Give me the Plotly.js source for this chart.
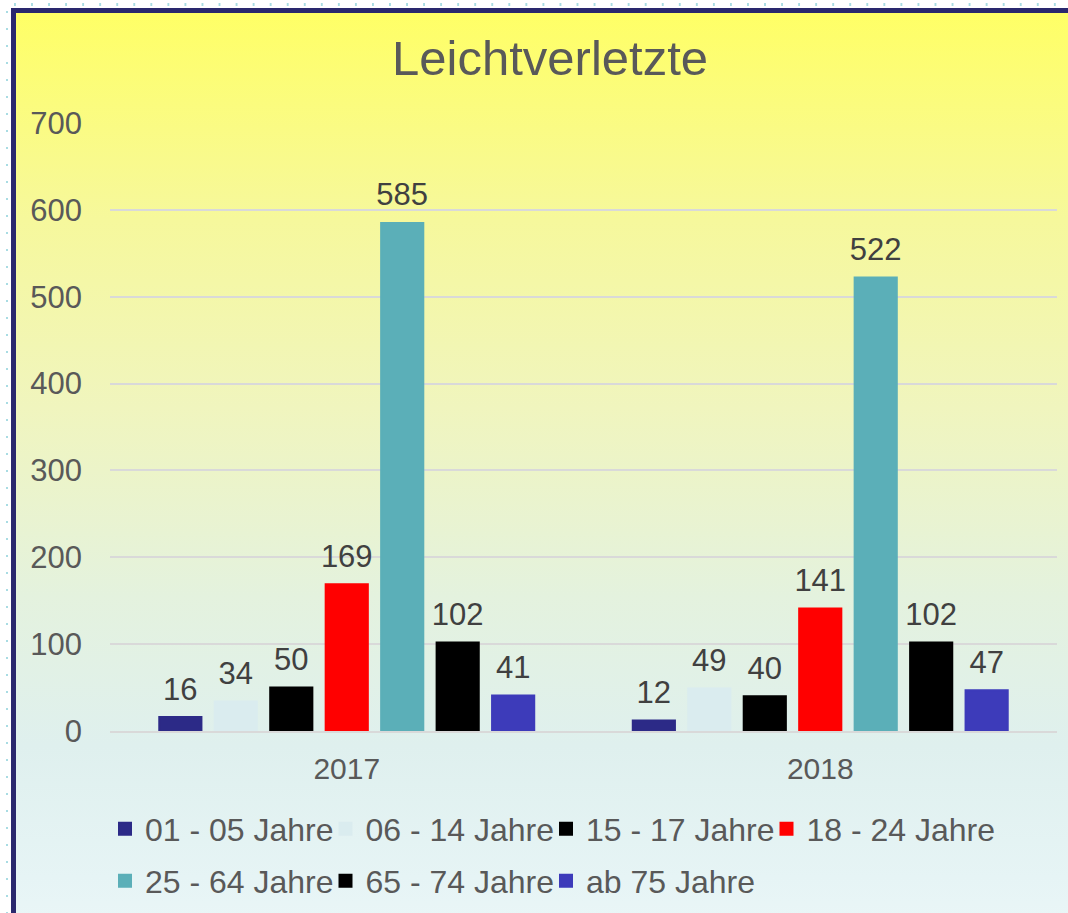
<!DOCTYPE html>
<html>
<head>
<meta charset="utf-8">
<script src="https://cdn.plot.ly/plotly-3.0.1.min.js"></script>
<style>
  html, body { margin: 0; padding: 0; background: #ffffff; overflow: hidden; width: 1068px; height: 913px; }
  #dotsTop { position: absolute; left: 14px; top: 3px; width: 1060px; height: 3px;
    background-image: linear-gradient(to right, #A9DCE3 2px, transparent 2px); background-size: 17.05px 3px; }
  #dotsLeft { position: absolute; left: 6px; top: 11px; width: 2px; height: 910px;
    background-image: linear-gradient(to bottom, #A9DCE3 2px, transparent 2px); background-size: 2px 17px; }
  #frame { position: absolute; left: 11px; top: 8px; width: 1100px; height: 940px;
    border-left: 5px solid #2A286E; border-top: 5px solid #2A286E;
    background: linear-gradient(to bottom, #FFFF66 0%, #F6F89C 22%, #F0F5BE 42%, #E4F2DE 62%, #DFF0EE 78%, #E6F4F5 92%, #ECF7F8 100%); }
  #chart { width: 1100px; height: 940px; }
</style>
</head>
<body>
<div id="dotsTop"></div>
<div id="dotsLeft"></div>
<div id="frame"><div id="chart"></div></div>
<script>
// ---- data ----
const titleText = 'Leichtverletzte';
const years = ['2017', '2018'];
const seriesNames = ['01 - 05 Jahre', '06 - 14 Jahre', '15 - 17 Jahre', '18 - 24 Jahre', '25 - 64 Jahre', '65 - 74 Jahre', 'ab 75 Jahre'];
const s0105 = [16, 12];
const s0614 = [34, 49];
const s1517 = [50, 40];
const s1824 = [169, 141];
const s2564 = [585, 522];
const s6574 = [102, 102];
const s75 = [41, 47];
const seriesColors = ['#2C2A87', '#DAECEF', '#000000', '#FF0000', '#5BAFB8', '#000000', '#3D3BBA'];
const yTicks = [0, 100, 200, 300, 400, 500, 600, 700];

const seriesValues = [s0105, s0614, s1517, s1824, s2564, s6574, s75];
const FONT = 'Arial, "Liberation Sans", sans-serif';
const legendIds = seriesNames.map((_, i) => i === 0 ? 'legend' : 'legend' + (i + 1));

const traces = [];
seriesValues.forEach((vals, i) => {
  traces.push({
    type: 'bar', name: seriesNames[i], x: years, y: vals,
    offsetgroup: 'g' + i,
    marker: { color: seriesColors[i], line: { color: seriesColors[i], width: 2 } },
    legend: legendIds[i],
    hoverinfo: 'x+y+name'
  });
});
seriesValues.forEach((vals, i) => {
  traces.push({
    type: 'scatter', mode: 'markers+text', x: years, y: vals,
    offsetgroup: 'g' + i,
    text: vals.map(String), textposition: 'top center',
    textfont: { family: FONT, size: 31, color: '#404040' },
    marker: { size: 14, opacity: 0 },
    cliponaxis: false, showlegend: false, hoverinfo: 'skip'
  });
});

const layout = {
  width: 1100, height: 940,
  paper_bgcolor: 'rgba(0,0,0,0)', plot_bgcolor: 'rgba(0,0,0,0)',
  margin: { l: 94, r: 59, t: 110, b: 222 },
  title: {
    text: titleText, font: { family: FONT, size: 49, color: '#595959' },
    xref: 'container', x: 0.4855, xanchor: 'center',
    yref: 'container', y: 1 - 45 / 940, yanchor: 'middle'
  },
  barmode: 'group', bargap: 0.18, bargroupgap: 0.24,
  scattermode: 'group', scattergap: 0.18,
  xaxis: {
    type: 'category', range: [-0.5, 1.5],
    showgrid: false, showline: true, linecolor: '#D9D9D9', linewidth: 2,
    ticks: '', ticklabelstandoff: 10,
    tickfont: { family: FONT, size: 30, color: '#595959' }
  },
  yaxis: {
    range: [0, 700], tickvals: yTicks, ticktext: yTicks.map(String),
    showgrid: true, gridcolor: '#D9D9D9', gridwidth: 2,
    zeroline: false, showline: false, ticks: '', ticklabelstandoff: 27,
    tickfont: { family: FONT, size: 31, color: '#595959' }
  },
  showlegend: true
};

// legend layout: 4 entries per row, fixed pitch
legendIds.forEach((id, i) => {
  const row = i < 4 ? 0 : 1;
  const col = i < 4 ? i : i - 4;
  layout[id] = {
    orientation: 'h', xref: 'container', yref: 'container',
    xanchor: 'left', yanchor: 'middle',
    bgcolor: 'rgba(0,0,0,0)', borderwidth: 0,
    font: { family: FONT, size: 32, color: '#595959' },
    x: (89 + col * 220.5) / 1100,
    y: 1 - ((row === 0 ? 829 : 881) - 13) / 940
  };
});

Plotly.newPlot('chart', traces, layout, { displayModeBar: false, responsive: false });
</script>
</body>
</html>
